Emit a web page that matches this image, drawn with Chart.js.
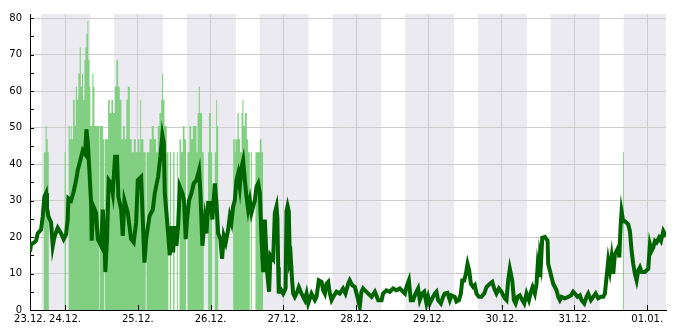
<!DOCTYPE html>
<html><head><meta charset="utf-8">
<script src="https://cdn.jsdelivr.net/npm/chart.js@4/dist/chart.umd.min.js"></script>
<style>html,body{margin:0;padding:0;background:#fff}#wrap{width:685px;height:330px}</style>
</head><body><div id="wrap"><canvas id="c" width="685" height="330"></canvas></div>
<script>
// hours since 23.12. 00:00
const startHour = 12.45, endHour = 222.2;
const startLabel = '23.12.';
const dayHours = [24, 48, 72, 96, 120, 144, 168, 192, 216];
const dayLabels = ['24.12.', '25.12.', '26.12.', '27.12.', '28.12.', '29.12.', '30.12.', '31.12.', '01.01.'];
const sunsetHour = 16.2, sunriseHour = 8.3;
const yTicks = [0, 5, 10, 15, 20, 25, 30, 35, 40, 45, 50, 55, 60, 65, 70, 75, 80];

const speedHours = [12.45,12.8,13.9,14.45,15.0,16.1,16.65,17.2,17.75,18.05,18.5,19.4,19.95,20.5,21.6,22.7,23.55,24.35,24.9,25.1,26.0,26.85,27.65,28.2,29.05,29.85,30.6,31.05,31.5,32.05,32.6,32.8,33.35,34.25,34.8,35.9,36.45,37.0,37.3,37.85,38.4,39.2,39.75,40.5,41.15,41.6,42.5,43.05,43.6,44.7,45.8,46.65,47.45,48.0,49.1,50.2,50.75,51.85,52.95,53.6,54.7,55.45,56.1,56.55,56.9,57.45,58.0,58.55,59.1,59.65,60.2,60.75,61.3,61.85,62.7,63.25,63.8,64.25,64.9,65.7,66.45,67.35,68.2,68.65,69.3,70.1,70.65,71.2,71.95,72.6,73.4,73.95,74.5,75.25,75.8,76.35,77.0,77.8,78.35,78.9,79.45,80.0,80.55,81.1,81.65,82.2,82.75,83.3,83.85,84.4,84.95,85.5,86.05,86.6,87.15,87.7,88.25,88.8,89.35,89.9,90.65,91.3,91.75,92.65,93.2,93.75,94.05,94.3,94.5,94.85,95.4,95.95,96.5,96.75,97.05,97.4,97.8,98.15,98.45,98.9,99.25,99.8,100.35,101.1,102.0,103.1,103.65,104.2,105.3,106.4,106.95,107.7,108.6,109.15,109.7,110.25,110.8,111.35,111.9,112.45,113.55,114.6,115.7,116.5,117.4,117.9,118.7,119.6,120.7,121.2,121.75,122.3,122.9,124.0,125.1,126.2,127.3,128.4,128.9,130.0,131.1,132.2,133.3,134.4,135.5,136.1,136.6,137.4,138.05,138.8,139.6,140.45,141.0,141.8,142.45,143.2,143.75,144.3,145.1,145.95,146.5,147.05,147.95,148.7,149.25,150.15,150.9,151.45,152.55,153.1,153.9,154.55,155.0,155.65,156.2,156.75,157.3,157.85,158.6,159.15,159.7,160.5,161.35,162.25,163.0,164.1,164.9,165.55,166.3,167.1,167.95,168.5,169.05,169.6,170.15,170.7,171.5,172.05,172.6,173.25,174.0,174.8,175.45,176.2,177.0,177.65,178.2,178.95,179.5,179.85,180.3,180.6,180.95,181.4,182.25,183.15,183.35,183.9,184.45,185.0,185.55,186.1,186.65,187.2,187.75,188.85,189.95,190.85,191.6,192.15,193.05,193.8,194.35,195.25,196.0,196.55,197.45,198.2,199.0,199.85,200.75,201.5,202.05,202.6,203.15,203.7,204.25,204.8,205.35,205.9,206.45,206.8,207.2,207.55,208.1,208.65,209.2,209.75,210.3,210.85,211.4,211.95,212.5,213.05,213.6,214.15,215.25,216.35,216.9,217.45,218.0,218.55,219.1,219.9,220.55,221.3,221.85,222.2];
const speedKmh = [16,18,18.5,19,21,22,25.7,31,32,28,25.7,24,17.5,20,22.5,21,19.4,20.7,25,30.6,30,32.4,35.6,38.3,41,43.7,42.8,49.5,46,38,29.3,19,28.4,26.6,19.4,17.6,27.5,19.4,10.4,19.4,35.6,34.7,32,42,42,31,27.5,20.3,30,26.6,19.4,18.5,24,35.6,36.5,13,19.4,25.7,27.5,32,36.5,42,48,46,32,26.6,21,15,23,15.8,23,17.6,23,33.8,32,30,19.4,24.8,30,32,34.7,35.6,38.3,32,17.6,24.8,21,29.3,29.3,24.8,34.7,29.3,21,19.4,14,20.3,18.5,22,25.7,24,28.4,30,35.6,37.4,33.8,39,41,35.6,31,27.5,30,26.6,28.4,30,33.8,34.7,32,19.4,10.4,24.8,10.4,5,15,14,26.6,28.4,25,11.7,4.5,6,5.4,4.5,5.4,6,27,28.5,27,13.5,14.4,8,4.5,3.6,4.5,6.3,4.5,2.7,4.5,1.8,4.5,2.7,3.6,8.1,7.7,5.4,4.5,7.2,7.7,4.5,2.7,3.6,5,4.5,5.9,4.5,7.2,8.1,6.8,6.3,2.7,0.9,5,5.9,5.4,4.5,3.6,5,2.7,2.7,4.5,5.4,5,5.9,5.4,5.9,5,4.5,6.3,8.1,2.7,2.7,4.5,5.9,2.7,4.5,5,1.8,3.6,1.8,3.2,4.5,5,2.7,1.8,3.6,4.5,4.7,2.7,4,3.6,2.3,2.7,4.5,8.1,8.1,9.9,12.6,10.8,7.2,6.3,6.8,4.5,3.6,3.6,4.5,6.3,7.2,7.7,5.9,4.5,5.9,5,4,3.2,2.7,8.1,11.3,8.1,2.7,1.8,3.6,4,2.7,1.8,4.5,2.7,5,6.3,4.5,7.2,11.7,9,14.4,12.6,19.8,20,19,12.6,10.8,9,7.2,6.3,5.4,3.6,2.7,3.6,3.2,3.6,4,5,4.5,3.6,4,2.7,1.8,3.6,4.5,2.7,3.6,4.5,3.2,3.6,3.6,4.5,9,13.5,10.8,14.4,9.9,15.3,16.2,17.1,14.4,22.5,27,24.3,24.3,23.9,23.4,21.6,16.2,12.6,9.9,8.1,10.8,11.7,10.4,10.4,11.3,18,16.2,17.1,18.9,18.5,19.8,18.9,21.6,20.7,21];

// gust: each value holds from its hour until the next hour
const gustHours = [12.45,17.0,17.6,17.95,18.3,18.65,23.85,24.2,25.2,25.55,25.9,26.2,26.65,27.2,27.55,27.95,28.4,28.85,29.2,29.6,29.95,30.4,30.7,31.05,31.4,31.7,32.05,32.35,33.0,33.35,33.7,35.2,35.35,36.55,37.0,37.2,38.2,38.75,39.3,39.85,40.4,40.95,41.5,42.05,42.6,43.15,43.7,44.25,44.7,45.35,46.0,46.65,47.35,48.0,48.55,48.8,49.1,49.85,50.6,50.9,51.85,52.6,53.25,54.05,54.6,55.15,55.7,56.0,56.35,56.8,57.55,58.1,58.55,59.0,59.65,60.1,60.9,61.2,61.75,62.3,62.85,63.4,63.9,64.4,65.05,65.6,66.15,67.35,67.7,68.1,68.45,69.2,69.75,71.2,71.5,72.05,72.5,73.4,73.85,74.15,74.5,79.45,80.0,80.2,80.85,81.3,81.75,82.2,82.5,82.85,83.3,83.95,84.4,84.95,85.25,85.6,86.8,88.25,88.8,89.3,208.0,208.3,222.2];
const gustKmh = [0,43.2,50.4,46.8,43.2,0,43.2,0,50.4,46.8,50.4,46.8,57.6,50.4,61.2,57.6,64.8,72,61.2,64.8,57.6,68.4,72,75.6,79.2,68.4,61.2,50.4,64.8,61.2,50.4,0,50.4,46.8,0,46.8,57.6,54,57.6,54,61.2,68.4,61.2,57.6,46.8,50.4,46.8,57.6,61.2,46.8,43.2,46.8,43.2,46.8,43.2,57.6,46.8,43.2,0,43.2,46.8,50.4,46.8,43.2,50.4,54,57.6,64.8,57.6,50.4,43.2,0,43.2,0,43.2,0,43.2,0,46.8,43.2,50.4,46.8,0,43.2,50.4,46.8,50.4,43.2,54,61.2,54,43.2,0,43.2,54,43.2,0,43.2,57.6,50.4,0,46.8,43.2,46.8,54,46.8,43.2,54,57.6,50.4,54,46.8,43.2,0,43.2,0,43.2,46.8,43.2,0,43.2,0,0];

// expand the gust steps into explicit corner points (value held until the next hour)
const gustPoints = [];
gustHours.forEach((h, i) => {
  gustPoints.push({x: h, y: gustKmh[i]});
  if (i + 1 < gustHours.length) gustPoints.push({x: gustHours[i + 1], y: gustKmh[i]});
});

const FONT = {family: 'DejaVu Sans', size: 10};

const nightBands = {
  id: 'nightBands',
  beforeDraw(chart) {
    const {ctx, chartArea: a, scales: {x}} = chart;
    ctx.save();
    ctx.fillStyle = '#eaeaf0';
    for (let d = 0; d <= 9; d++) {
      const s = Math.max(startHour, d * 24 + sunsetHour);
      const e = Math.min(endHour, (d + 1) * 24 + sunriseHour);
      if (e <= s) continue;
      const x0 = x.getPixelForValue(s), x1 = x.getPixelForValue(e);
      ctx.fillRect(x0, a.top, x1 - x0, a.bottom - a.top);
    }
    ctx.restore();
  }
};
const innerTicks = {
  id: 'innerTicks',
  afterDatasetsDraw(chart) {
    const {ctx, chartArea: a, scales: {x, y}} = chart;
    ctx.save();
    ctx.strokeStyle = '#000';
    ctx.lineWidth = 1;
    ctx.beginPath();
    yTicks.forEach(v => {
      const py = Math.round(y.getPixelForValue(v)) + 0.5;
      ctx.moveTo(a.left, py); ctx.lineTo(a.left + 4, py);
    });
    dayHours.forEach(h => {
      const px = Math.round(x.getPixelForValue(h)) + 0.5;
      ctx.moveTo(px, a.bottom); ctx.lineTo(px, a.bottom - 5);
    });
    ctx.stroke();
    ctx.restore();
  }
};

new Chart(document.getElementById('c'), {
  type: 'line',
  data: {
    datasets: [
      {
        label: 'Wind',
        data: speedHours.map((h, i) => ({x: h, y: speedKmh[i]})),
        borderColor: '#006400',
        borderWidth: 4,
        pointRadius: 0,
        fill: false,
        tension: 0,
        order: 1
      },
      {
        label: 'Böen',
        data: gustPoints,
        borderWidth: 0,
        borderColor: 'rgba(0,0,0,0)',
        backgroundColor: 'rgb(129,208,129)',
        pointRadius: 0,
        tension: 0,
        fill: 'origin',
        order: 2
      }
    ]
  },
  options: {
    responsive: false,
    animation: false,
    devicePixelRatio: 1,
    layout: {padding: {left: 0, right: 19, top: 10, bottom: 0}},
    plugins: {legend: {display: false}, tooltip: {enabled: false}},
    scales: {
      x: {
        type: 'linear',
        min: startHour,
        max: endHour,
        afterBuildTicks: s => { s.ticks = [startHour, ...dayHours].map(v => ({value: v})); },
        afterFit: s => { s.height = 20; },
        ticks: {
          autoSkip: false, maxRotation: 0, minRotation: 0, padding: 3,
          font: FONT, color: '#000',
          callback: (v, i) => i === 0 ? startLabel : dayLabels[i - 1]
        },
        grid: {
          drawTicks: false,
          color: c => c.index === 0 ? 'rgba(0,0,0,0)' : '#cdcdcd'
        },
        border: {display: true, color: '#000', width: 1}
      },
      y: {
        min: 0,
        max: 81.1,
        afterBuildTicks: s => { s.ticks = yTicks.map(v => ({value: v})); },
        afterFit: s => { s.width = 30; },
        ticks: {
          padding: 8, font: FONT, color: '#000',
          callback: v => v % 10 === 0 ? String(v) : ''
        },
        grid: {
          drawTicks: false,
          color: c => (c.tick && c.tick.value % 10 === 0 && c.tick.value > 0) ? '#cdcdcd' : 'rgba(0,0,0,0)'
        },
        border: {display: true, color: '#000', width: 1}
      }
    }
  },
  plugins: [nightBands, innerTicks]
});
</script></body></html>
